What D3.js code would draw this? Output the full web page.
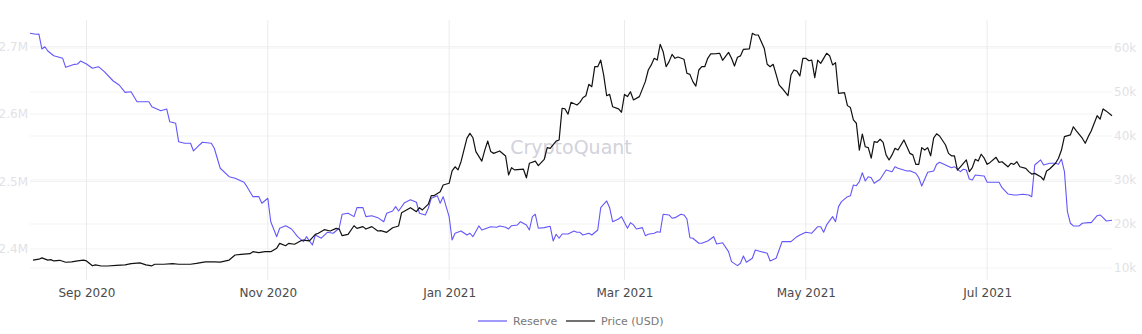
<!DOCTYPE html>
<html>
<head>
<meta charset="utf-8">
<script src="https://cdn.jsdelivr.net/npm/d3@7"></script>
<style>
  body { margin: 0; background: #fff; }
  svg { display: block; }
</style>
</head>
<body>
<svg id="chart" width="1142" height="334"></svg>
<script>
// Exchange reserve (BTC) — daily readings
const reserveDates = [
  "2020-08-13","2020-08-15","2020-08-16","2020-08-17","2020-08-18","2020-08-19","2020-08-21","2020-08-24","2020-08-25","2020-08-28",
  "2020-08-29","2020-08-30","2020-09-01","2020-09-03","2020-09-05","2020-09-07","2020-09-10","2020-09-12","2020-09-14","2020-09-16",
  "2020-09-18","2020-09-22","2020-09-23","2020-09-26","2020-09-28","2020-09-29","2020-10-01","2020-10-02","2020-10-04","2020-10-06",
  "2020-10-07","2020-10-09","2020-10-10","2020-10-13","2020-10-14","2020-10-16","2020-10-19","2020-10-21","2020-10-24","2020-10-25",
  "2020-10-27","2020-10-29","2020-10-30","2020-11-01","2020-11-02","2020-11-04","2020-11-05","2020-11-07","2020-11-09","2020-11-11",
  "2020-11-13","2020-11-14","2020-11-16","2020-11-17","2020-11-19","2020-11-21","2020-11-23","2020-11-25","2020-11-26","2020-11-28",
  "2020-11-30","2020-12-01","2020-12-03","2020-12-04","2020-12-06","2020-12-08","2020-12-10","2020-12-11","2020-12-13","2020-12-14",
  "2020-12-15","2020-12-17","2020-12-19","2020-12-21","2020-12-22","2020-12-24","2020-12-25","2020-12-26","2020-12-28","2020-12-29",
  "2020-12-30","2021-01-01","2021-01-02","2021-01-03","2021-01-05","2021-01-07","2021-01-08","2021-01-09","2021-01-11","2021-01-12",
  "2021-01-15","2021-01-17","2021-01-18","2021-01-20","2021-01-21","2021-01-22","2021-01-24","2021-01-25","2021-01-27","2021-01-28",
  "2021-01-29","2021-01-30","2021-01-31","2021-02-02","2021-02-04","2021-02-05","2021-02-06","2021-02-07","2021-02-08","2021-02-10",
  "2021-02-12","2021-02-13","2021-02-14","2021-02-15","2021-02-17","2021-02-18","2021-02-20","2021-02-21","2021-02-23","2021-02-24",
  "2021-02-25","2021-02-27","2021-02-28","2021-03-02","2021-03-03","2021-03-04","2021-03-05","2021-03-07","2021-03-08","2021-03-09",
  "2021-03-11","2021-03-12","2021-03-13","2021-03-14","2021-03-16","2021-03-17","2021-03-18","2021-03-20","2021-03-21","2021-03-22",
  "2021-03-23","2021-03-24","2021-03-26","2021-03-27","2021-03-29","2021-03-31","2021-04-01","2021-04-03","2021-04-05","2021-04-06",
  "2021-04-08","2021-04-09","2021-04-10","2021-04-11","2021-04-13","2021-04-14","2021-04-16","2021-04-18","2021-04-19","2021-04-21",
  "2021-04-22","2021-04-23","2021-04-25","2021-04-26","2021-04-28","2021-04-29","2021-05-01","2021-05-03","2021-05-05","2021-05-06",
  "2021-05-07","2021-05-08","2021-05-10","2021-05-11","2021-05-12","2021-05-13","2021-05-15","2021-05-16","2021-05-17","2021-05-18",
  "2021-05-19","2021-05-20","2021-05-21","2021-05-22","2021-05-23","2021-05-24","2021-05-26","2021-05-28","2021-05-30","2021-05-31",
  "2021-06-01","2021-06-04","2021-06-05","2021-06-07","2021-06-08","2021-06-09","2021-06-11","2021-06-13","2021-06-14","2021-06-15",
  "2021-06-17","2021-06-19","2021-06-20","2021-06-22","2021-06-23","2021-06-24","2021-06-25","2021-06-26","2021-06-27","2021-06-29",
  "2021-06-30","2021-07-01","2021-07-03","2021-07-05","2021-07-06","2021-07-08","2021-07-10","2021-07-11","2021-07-13","2021-07-15",
  "2021-07-16","2021-07-17","2021-07-19","2021-07-20","2021-07-22","2021-07-24","2021-07-25","2021-07-26","2021-07-27","2021-07-28",
  "2021-07-29","2021-07-30","2021-08-01","2021-08-02","2021-08-04","2021-08-05","2021-08-07","2021-08-08","2021-08-09","2021-08-10",
  "2021-08-12"
];
const reserveValues = [
  2719600,2718100,2718500,2696300,2699700,2693300,2686400,2682500,2669200,2673600,
  2674100,2678500,2674100,2667700,2670100,2662700,2648900,2643000,2632100,2633000,
  2618200,2618200,2610800,2604900,2607400,2588600,2586200,2559000,2556600,2556600,
  2545200,2554100,2558100,2556600,2549200,2519600,2507100,2504700,2498800,2492300,
  2477500,2477500,2467700,2475100,2440400,2418200,2430700,2434500,2429600,2418200,
  2410800,2418200,2405900,2420700,2415900,2424700,2423300,2430700,2451400,2452900,
  2447900,2461200,2461200,2447900,2449300,2446400,2440400,2452900,2456300,2462700,
  2456300,2468600,2473000,2469200,2452900,2450400,2460300,2475100,2479000,2467700,
  2477500,2447900,2413300,2423300,2426700,2420700,2423300,2418200,2434100,2428100,
  2433000,2432100,2434100,2432100,2429600,2434500,2435600,2440400,2435600,2428100,
  2447900,2451400,2430700,2431600,2433600,2411900,2421800,2415900,2422200,2422200,
  2426700,2424700,2424700,2420700,2423300,2420700,2428100,2461200,2471100,2461200,
  2440400,2444400,2447900,2430700,2439000,2435600,2429600,2431600,2419700,2421800,
  2423300,2425600,2424700,2451400,2450400,2445500,2446400,2451400,2450400,2444400,
  2416700,2415900,2408400,2408400,2411900,2418200,2407400,2409300,2396000,2381200,
  2375300,2378800,2389600,2380300,2386200,2398500,2396000,2393600,2382200,2386200,
  2398500,2410800,2410800,2410800,2418200,2420700,2424700,2423300,2433000,2433000,
  2424700,2435600,2447900,2440400,2462700,2470100,2477500,2479000,2494800,2493800,
  2499700,2513000,2500700,2507100,2505600,2497300,2503300,2517000,2514500,2521900,
  2519600,2515600,2516000,2512100,2505600,2493300,2513600,2515600,2525500,2528400,
  2524400,2520400,2521900,2514500,2518100,2517000,2503700,2502200,2509600,2508600,
  2508100,2498800,2498800,2498800,2490800,2481500,2480000,2480000,2481000,2480000,
  2477500,2524400,2531900,2524400,2527000,2527000,2525500,2533300,2514500,2455300,
  2438100,2434100,2434100,2438100,2439000,2439000,2449300,2450400,2446400,2441500,
  2442500
];

// BTC price (USD) — daily readings
const priceDates = [
  "2020-08-14","2020-08-16","2020-08-17","2020-08-19","2020-08-20","2020-08-21","2020-08-23","2020-08-25","2020-08-27","2020-08-29",
  "2020-08-31","2020-09-01","2020-09-03","2020-09-04","2020-09-06","2020-09-08","2020-09-11","2020-09-14","2020-09-16","2020-09-19",
  "2020-09-21","2020-09-23","2020-09-24","2020-09-27","2020-09-30","2020-10-02","2020-10-04","2020-10-06","2020-10-08","2020-10-11",
  "2020-10-14","2020-10-16","2020-10-19","2020-10-21","2020-10-23","2020-10-26","2020-10-27","2020-10-29","2020-10-31","2020-11-02",
  "2020-11-03","2020-11-04","2020-11-05","2020-11-07","2020-11-08","2020-11-10","2020-11-12","2020-11-13","2020-11-15","2020-11-17",
  "2020-11-18","2020-11-20","2020-11-22","2020-11-24","2020-11-25","2020-11-26","2020-11-28","2020-11-30","2020-12-01","2020-12-03",
  "2020-12-04","2020-12-06","2020-12-08","2020-12-09","2020-12-11","2020-12-13","2020-12-15","2020-12-16","2020-12-19","2020-12-21",
  "2020-12-22","2020-12-23","2020-12-25","2020-12-26","2020-12-27","2020-12-29","2020-12-30","2021-01-01","2021-01-02","2021-01-03",
  "2021-01-04","2021-01-05","2021-01-07","2021-01-08","2021-01-09","2021-01-10","2021-01-12","2021-01-13","2021-01-14","2021-01-15",
  "2021-01-16","2021-01-18","2021-01-20","2021-01-21","2021-01-22","2021-01-23","2021-01-26","2021-01-27","2021-01-28","2021-01-30",
  "2021-01-31","2021-02-02","2021-02-03","2021-02-04","2021-02-06","2021-02-07","2021-02-08","2021-02-09","2021-02-10","2021-02-11",
  "2021-02-13","2021-02-14","2021-02-15","2021-02-16","2021-02-17","2021-02-18","2021-02-19","2021-02-20","2021-02-21","2021-02-22",
  "2021-02-23","2021-02-24","2021-02-25","2021-02-27","2021-02-28","2021-03-01","2021-03-02","2021-03-03","2021-03-04","2021-03-06",
  "2021-03-08","2021-03-09","2021-03-10","2021-03-11","2021-03-12","2021-03-13","2021-03-14","2021-03-15","2021-03-16","2021-03-17",
  "2021-03-18","2021-03-19","2021-03-21","2021-03-22","2021-03-23","2021-03-24","2021-03-25","2021-03-26","2021-03-27","2021-03-28",
  "2021-03-29","2021-03-30","2021-04-01","2021-04-02","2021-04-03","2021-04-05","2021-04-06","2021-04-07","2021-04-08","2021-04-09",
  "2021-04-10","2021-04-12","2021-04-13","2021-04-14","2021-04-15","2021-04-17","2021-04-18","2021-04-19","2021-04-20","2021-04-21",
  "2021-04-22","2021-04-23","2021-04-25","2021-04-26","2021-04-27","2021-04-28","2021-04-29","2021-04-30","2021-05-01","2021-05-02",
  "2021-05-03","2021-05-04","2021-05-05","2021-05-06","2021-05-07","2021-05-08","2021-05-09","2021-05-10","2021-05-11","2021-05-12",
  "2021-05-14","2021-05-15","2021-05-16","2021-05-17","2021-05-18","2021-05-19","2021-05-20","2021-05-21","2021-05-22","2021-05-23",
  "2021-05-24","2021-05-25","2021-05-26","2021-05-27","2021-05-28","2021-05-29","2021-05-30","2021-05-31","2021-06-01","2021-06-03",
  "2021-06-05","2021-06-06","2021-06-07","2021-06-08","2021-06-09","2021-06-10","2021-06-11","2021-06-12","2021-06-13","2021-06-14",
  "2021-06-15","2021-06-17","2021-06-18","2021-06-19","2021-06-20","2021-06-21","2021-06-22","2021-06-24","2021-06-25","2021-06-26",
  "2021-06-27","2021-06-28","2021-06-29","2021-06-30","2021-07-01","2021-07-02","2021-07-04","2021-07-05","2021-07-06","2021-07-08",
  "2021-07-09","2021-07-10","2021-07-11","2021-07-12","2021-07-14","2021-07-15","2021-07-16","2021-07-17","2021-07-19","2021-07-20",
  "2021-07-21","2021-07-22","2021-07-24","2021-07-25","2021-07-26","2021-07-27","2021-07-29","2021-07-30","2021-07-31","2021-08-02",
  "2021-08-03","2021-08-04","2021-08-05","2021-08-07","2021-08-08","2021-08-09","2021-08-10","2021-08-12"
];
const priceValues = [
  11800,12000,12300,11800,11900,11600,11750,11300,11400,11600,
  11800,11600,10500,10700,10450,10450,10600,10700,11000,11150,
  10700,10500,10850,10850,11000,10850,10850,10850,11050,11400,
  11400,11350,11800,12950,13100,13250,13700,13500,13700,13700,
  14100,14500,15600,15050,15600,15400,16150,16350,16150,17650,
  17900,18700,18400,19000,18850,17350,17650,19600,19000,19400,
  18850,19400,18400,18500,18100,19150,19550,22550,23700,22800,
  23700,23200,24500,26450,26450,27350,28850,29250,32050,33000,
  32300,34150,39500,40600,39600,36450,34300,36800,38850,36450,
  36050,36600,35450,31150,32800,32300,32450,30500,33800,34300,
  33250,34700,37350,37200,38850,39100,46300,46150,44950,47650,
  47050,47650,48700,49150,51750,51200,55750,55750,57250,53850,
  49150,49450,46650,46150,45400,49450,48950,50050,48200,48950,
  52350,55000,56150,57650,57250,60850,59150,55750,56900,58550,
  57650,57950,57450,54250,54000,52350,51350,55000,55750,55750,
  57650,58650,58700,58800,57200,59000,57650,55900,57900,58200,
  59700,59800,63350,62950,62950,59950,56300,55750,56300,54000,
  51600,50850,49150,53850,55000,54750,53650,57650,57650,57100,
  57250,53250,57250,56500,57650,58800,58250,56150,56650,49700,
  49850,46900,46450,43650,42900,36800,40450,37550,37350,34950,
  38700,38550,39250,38550,35700,34550,35700,37200,36800,39100,
  36050,35700,33550,33550,37350,36800,37350,35500,39500,40500,
  40000,37950,36050,35500,35500,32250,33000,34550,31900,32800,
  34700,34300,35850,34950,33550,34000,35150,34000,34150,33000,
  33800,33550,34150,33000,32650,31900,31350,31500,30750,30000,
  32050,32500,33800,34950,36800,39850,40250,42100,41150,39500,
  38350,39850,41150,44600,43850,46150,45700,44600
];

// Axis ticks and labels
const xTickDates = ["2020-09-01","2020-11-01","2021-01-01","2021-03-01","2021-05-01","2021-07-01"];
const xTickLabels = ["Sep 2020","Nov 2020","Jan 2021","Mar 2021","May 2021","Jul 2021"];
const reserveTicks = [2400000, 2500000, 2600000, 2700000];
const reserveTickLabels = ["2.4M","2.5M","2.6M","2.7M"];
const priceTicks = [10000, 20000, 30000, 40000, 50000, 60000];
const priceTickLabels = ["10k","20k","30k","40k","50k","60k"];
const seriesNames = ["Reserve", "Price (USD)"];
const seriesColors = ["#6457f9", "#111111"];

const parse = d3.timeParse("%Y-%m-%d");
const reserve = reserveDates.map((d, i) => ({ date: parse(d), value: reserveValues[i] }));
const price = priceDates.map((d, i) => ({ date: parse(d), value: priceValues[i] }));

const W = 1142, H = 334;
const margin = { top: 20, right: 30, bottom: 54, left: 30 };
const innerW = W - margin.left - margin.right;
const innerH = H - margin.top - margin.bottom;

const svg = d3.select("#chart");
const font = "'DejaVu Sans', Verdana, sans-serif";

const x = d3.scaleTime()
  .domain([parse("2020-08-13"), parse("2021-08-12")])
  .range([margin.left, margin.left + innerW]);
const yR = d3.scaleLinear()
  .domain([2354000, 2739300])
  .range([margin.top + innerH, margin.top]);
const yP = d3.scaleLinear()
  .domain([7270, 66360])
  .range([margin.top + innerH, margin.top]);

// Horizontal grid for both value axes
const grid = svg.append("g").attr("class", "grid");
grid.selectAll("line.gr")
  .data(reserveTicks)
  .join("line")
  .attr("class", "gr")
  .attr("x1", margin.left).attr("x2", margin.left + innerW)
  .attr("y1", d => yR(d)).attr("y2", d => yR(d))
  .attr("stroke", "#f3f3f5").attr("stroke-width", 1);
grid.selectAll("line.gp")
  .data(priceTicks)
  .join("line")
  .attr("class", "gp")
  .attr("x1", margin.left).attr("x2", margin.left + innerW)
  .attr("y1", d => yP(d)).attr("y2", d => yP(d))
  .attr("stroke", "#f3f3f5").attr("stroke-width", 1);

// Vertical grid at month ticks
grid.selectAll("line.gx")
  .data(xTickDates.map(parse))
  .join("line")
  .attr("class", "gx")
  .attr("x1", d => x(d)).attr("x2", d => x(d))
  .attr("y1", margin.top).attr("y2", margin.top + innerH)
  .attr("stroke", "#ebebeb").attr("stroke-width", 1);

// Watermark
svg.append("text")
  .attr("x", margin.left + innerW / 2)
  .attr("y", 148)
  .attr("text-anchor", "middle")
  .attr("dominant-baseline", "middle")
  .attr("font-family", font)
  .attr("font-size", 19)
  .attr("fill", "#d2d2dc")
  .text("CryptoQuant");

// Axes
const xAxis = d3.axisBottom(x)
  .tickValues(xTickDates.map(parse))
  .tickFormat((d, i) => xTickLabels[i])
  .tickSize(0).tickPadding(8);
const gx = svg.append("g")
  .attr("transform", `translate(0,${margin.top + innerH})`)
  .call(xAxis);
gx.select(".domain").remove();
gx.selectAll("text")
  .attr("font-family", font).attr("font-size", 12).attr("fill", "#4a4a4a");

const yAxisL = d3.axisLeft(yR)
  .tickValues(reserveTicks)
  .tickFormat((d, i) => reserveTickLabels[i])
  .tickSize(0).tickPadding(2);
const gyl = svg.append("g")
  .attr("transform", `translate(${margin.left},0)`)
  .call(yAxisL);
gyl.select(".domain").remove();
gyl.selectAll("text")
  .attr("font-family", font).attr("font-size", 12).attr("fill", "#e2e2e6");

const yAxisR = d3.axisRight(yP)
  .tickValues(priceTicks)
  .tickFormat((d, i) => priceTickLabels[i])
  .tickSize(0).tickPadding(2);
const gyr = svg.append("g")
  .attr("transform", `translate(${margin.left + innerW},0)`)
  .call(yAxisR);
gyr.select(".domain").remove();
gyr.selectAll("text")
  .attr("font-family", font).attr("font-size", 12).attr("fill", "#e2e2e6");

// Series lines
const lineR = d3.line().x(d => x(d.date)).y(d => yR(d.value));
const lineP = d3.line().x(d => x(d.date)).y(d => yP(d.value));

svg.append("path")
  .datum(reserve)
  .attr("fill", "none")
  .attr("stroke", seriesColors[0])
  .attr("stroke-width", 1.1)
  .attr("stroke-linejoin", "round")
  .attr("d", lineR);

svg.append("path")
  .datum(price)
  .attr("fill", "none")
  .attr("stroke", seriesColors[1])
  .attr("stroke-width", 1.2)
  .attr("stroke-linejoin", "round")
  .attr("d", lineP);

// Legend
const legend = svg.append("g").attr("transform", "translate(478,321)");
const items = legend.selectAll("g")
  .data(seriesNames)
  .join("g")
  .attr("transform", (d, i) => `translate(${i * 88},0)`);
items.append("line")
  .attr("x1", 0).attr("x2", 29).attr("y1", 0).attr("y2", 0)
  .attr("stroke", (d, i) => seriesColors[i]).attr("stroke-width", 1.2);
items.append("text")
  .attr("x", 35).attr("y", 0).attr("dy", "0.35em")
  .attr("font-family", font).attr("font-size", 11).attr("fill", "#777")
  .text(d => d);
</script>
</body>
</html>
